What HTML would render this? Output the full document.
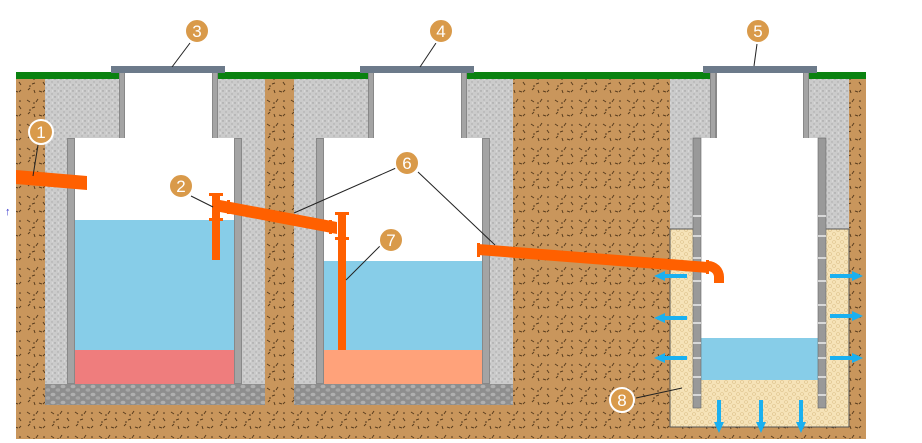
<!DOCTYPE html>
<html><head><meta charset="utf-8"><style>
html,body{margin:0;padding:0;background:#fff;width:922px;height:443px;overflow:hidden}
</style></head><body>
<svg width="922" height="443" viewBox="0 0 922 443" xmlns="http://www.w3.org/2000/svg">
<defs>
<pattern id="soil" width="24" height="24" patternUnits="userSpaceOnUse">
<rect width="24" height="24" fill="#c9965c"/>
<path d="M3 4l3 2M14 3l-2 3M8 12l3-1M19 10l2 3M4 18l2-2M15 19l3 1M11 21l-1-3M21 18l-2 2" stroke="#5a3d1e" stroke-width="1"/>
<circle cx="10" cy="7" r="0.8" fill="#4a321a"/><circle cx="20" cy="5" r="0.8" fill="#4a321a"/><circle cx="6" cy="14" r="0.8" fill="#4a321a"/>
</pattern>
<pattern id="conc" width="6" height="6" patternUnits="userSpaceOnUse">
<rect width="6" height="6" fill="#cbcbcb"/><circle cx="1" cy="1" r="0.7" fill="#9a9a9a"/><circle cx="4" cy="4" r="0.7" fill="#a8a8a8"/><circle cx="4.5" cy="1" r="0.5" fill="#eee"/>
</pattern>
<pattern id="grav" width="10" height="8" patternUnits="userSpaceOnUse">
<rect width="10" height="8" fill="#8e8e8e"/><ellipse cx="3" cy="2.5" rx="2.5" ry="1.8" fill="#b0b0b0"/><ellipse cx="8" cy="6" rx="2.5" ry="1.8" fill="#a6a6a6"/>
</pattern>
<pattern id="sand" width="8" height="8" patternUnits="userSpaceOnUse">
<rect width="8" height="8" fill="#f6e3b8"/><circle cx="2" cy="2" r="1.5" fill="none" stroke="#dcc18a" stroke-width="0.6"/><circle cx="6" cy="6" r="1.5" fill="none" stroke="#dcc18a" stroke-width="0.6"/>
</pattern>
</defs>
<rect x="16" y="77" width="850" height="362" fill="url(#soil)"/>
<rect x="16" y="72" width="850" height="7" fill="#0a8210"/>
<!-- tank1 -->
<rect x="45" y="79" width="220" height="326" fill="url(#conc)"/>
<rect x="45" y="384" width="220" height="21" fill="url(#grav)"/>
<rect x="67" y="138" width="175" height="246" fill="#888"/>
<rect x="75" y="138" width="159" height="246" fill="#fff"/>
<rect x="68" y="139" width="6" height="244" fill="#a4a4a4"/><rect x="235" y="139" width="6" height="244" fill="#a4a4a4"/>
<rect x="75" y="220" width="159" height="130" fill="#87cde8"/>
<rect x="75" y="350" width="159" height="34" fill="#ef7d7d"/>
<rect x="119" y="72" width="99" height="66" fill="#888"/><rect x="125" y="72" width="87" height="66" fill="#fff"/>
<rect x="120" y="72" width="4" height="66" fill="#a4a4a4"/><rect x="213" y="72" width="4" height="66" fill="#a4a4a4"/>
<rect x="111" y="66" width="114" height="7" fill="#6c7a8a"/>
<!-- tank2 -->
<rect x="294" y="79" width="219" height="326" fill="url(#conc)"/>
<rect x="294" y="384" width="219" height="21" fill="url(#grav)"/>
<rect x="316" y="138" width="174" height="246" fill="#888"/>
<rect x="324" y="138" width="158" height="246" fill="#fff"/>
<rect x="317" y="139" width="6" height="244" fill="#a4a4a4"/><rect x="483" y="139" width="6" height="244" fill="#a4a4a4"/>
<rect x="324" y="261" width="158" height="89" fill="#87cde8"/>
<rect x="324" y="350" width="158" height="34" fill="#ffa27a"/>
<rect x="368" y="72" width="99" height="66" fill="#888"/><rect x="374" y="72" width="87" height="66" fill="#fff"/>
<rect x="369" y="72" width="4" height="66" fill="#a4a4a4"/><rect x="462" y="72" width="4" height="66" fill="#a4a4a4"/>
<rect x="360" y="66" width="114" height="7" fill="#6c7a8a"/>
<!-- tank3 -->
<rect x="670" y="79" width="179" height="150" fill="url(#conc)"/>
<rect x="670" y="229" width="179" height="198" fill="url(#sand)" stroke="#555" stroke-width="1"/>
<rect x="701" y="138" width="117" height="270" fill="#fff"/>
<rect x="701" y="338" width="117" height="42" fill="#87cde8"/>
<rect x="701" y="380" width="117" height="28" fill="url(#sand)"/>
<rect x="693" y="138" width="8" height="270" fill="#999" stroke="#666" stroke-width="0.6"/>
<rect x="818" y="138" width="8" height="270" fill="#999" stroke="#666" stroke-width="0.6"/>
<g stroke="#fff" stroke-width="1.2">
<path d="M693 216h8M693 236h8M693 258h8M693 281h8M693 305h8M693 323h8M693 343h8M693 358h8M693 377h8M693 395h8"/>
<path d="M818 216h8M818 236h8M818 258h8M818 281h8M818 305h8M818 323h8M818 343h8M818 358h8M818 377h8M818 395h8"/>
</g>
<rect x="710" y="72" width="99" height="66" fill="#888"/><rect x="717" y="72" width="86" height="66" fill="#fff"/>
<rect x="711" y="72" width="4" height="66" fill="#a4a4a4"/><rect x="804" y="72" width="4" height="66" fill="#a4a4a4"/>
<rect x="703" y="66" width="114" height="7" fill="#6c7a8a"/>
<!-- arrows -->
<g fill="#1ab0f0">
<path d="M687 274h-22v-3l-11 5 11 5v-3h22z"/><path d="M687 316h-22v-3l-11 5 11 5v-3h22z"/><path d="M687 356h-22v-3l-11 5 11 5v-3h22z"/>
<path d="M830 274h22v-3l11 5-11 5v-3h-22z"/><path d="M830 314h22v-3l11 5-11 5v-3h-22z"/><path d="M830 356h22v-3l11 5-11 5v-3h-22z"/>
<path d="M717 400h4v22h3l-5 11-5-11h3z"/><path d="M759 400h4v22h3l-5 11-5-11h3z"/><path d="M799 400h4v22h3l-5 11-5-11h3z"/>
</g>
<!-- pipes -->
<g fill="#ff6000">
<path d="M16 170L87 176V190L16 184z"/>
<rect x="212" y="194" width="8" height="66"/><rect x="209" y="193" width="14" height="3"/><rect x="209" y="218" width="14" height="3"/>
<path d="M220 200L337 222V234L220 212z"/><rect x="227" y="200" width="3" height="14"/><rect x="329" y="220" width="3" height="14"/>
<rect x="338" y="213" width="8" height="137"/><rect x="335" y="212" width="14" height="3"/><rect x="335" y="237" width="14" height="3"/>
<path d="M478 244L708 262V273L478 255z"/><rect x="477" y="243" width="3" height="14"/>
<path d="M706 261h2a16 16 0 0 1 16 16v6h-10v-6a6 6 0 0 0-6-6h-2z"/><rect x="706" y="260" width="3" height="14"/>
</g>
<!-- leaders -->
<g stroke="#222" stroke-width="1" fill="none">
<path d="M38 145L33 176"/><path d="M191 196L213 207"/><path d="M190 43L172 67"/><path d="M436 43L420 67"/>
<path d="M757 44L754 66"/><path d="M396 168L294 213"/><path d="M418 172L495 245"/><path d="M380 246L346 280"/><path d="M636 398L682 388"/>
</g>
<g font-family="Liberation Sans, sans-serif" font-size="17" fill="#fff" text-anchor="middle">
<g stroke="#fff" stroke-width="2" fill="#d99a4a">
<circle cx="41" cy="132" r="12"/><circle cx="181" cy="186" r="12"/><circle cx="197" cy="31" r="12"/><circle cx="441" cy="31" r="12"/><circle cx="758" cy="31" r="12"/><circle cx="407" cy="163" r="12"/><circle cx="391" cy="240" r="12"/><circle cx="622" cy="400" r="12"/>
</g>
<text x="41" y="138">1</text><text x="181" y="192">2</text><text x="197" y="37">3</text><text x="441" y="37">4</text><text x="758" y="37">5</text><text x="407" y="169">6</text><text x="391" y="246">7</text><text x="622" y="406">8</text>
</g>
<text x="5" y="215" font-family="Liberation Sans, sans-serif" font-size="11" fill="#33c">↑</text>
</svg>
</body></html>
